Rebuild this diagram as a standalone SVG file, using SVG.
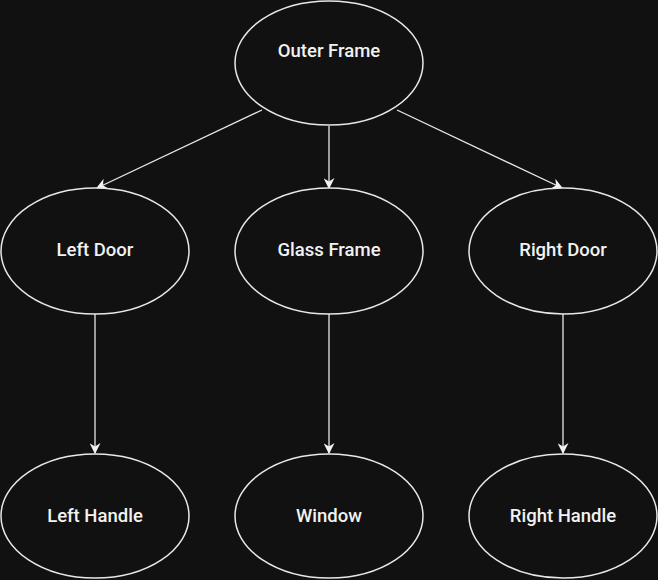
<svg xmlns="http://www.w3.org/2000/svg" width="658" height="580" viewBox="0 0 658 580">
<style>
.n{fill:#111111;stroke:#e8e8e8;stroke-width:1.5}
.t{fill:#f2f2f2;font-family:Roboto,"Liberation Sans",Arial,sans-serif;font-size:18.5px;font-weight:500;text-anchor:middle;dominant-baseline:central}
.e{stroke:#e8e8e8;stroke-width:1.3;fill:none;marker-end:url(#ah)}
</style>
<defs>
<marker id="ah" viewBox="0 0 10 10" refX="9" refY="5" markerWidth="11" markerHeight="11" markerUnits="userSpaceOnUse" orient="auto">
<path d="M0,0 L10,5 L0,10 L3,5 Z" fill="#f2f2f2"/>
</marker>
</defs>
<rect width="658" height="580" fill="#111111"/>
<g id="connectors">
<path class="e" d="M262,110 L97,188"/>
<path class="e" d="M329,126 L329,188"/>
<path class="e" d="M397,110 L562,188"/>
<path class="e" d="M95,314 L95,453"/>
<path class="e" d="M329,314 L329,453"/>
<path class="e" d="M563,314 L563,453"/>
</g>
<g id="outer-frame"><ellipse class="n" cx="329" cy="63" rx="94" ry="62"/><text class="t" x="329" y="51">Outer Frame</text></g>
<g id="left-door"><ellipse class="n" cx="95" cy="251" rx="94" ry="63"/><text class="t" x="95" y="250">Left Door</text></g>
<g id="glass-frame"><ellipse class="n" cx="329" cy="251" rx="94" ry="63"/><text class="t" x="329" y="250">Glass Frame</text></g>
<g id="right-door"><ellipse class="n" cx="563" cy="251" rx="94" ry="63"/><text class="t" x="563" y="250">Right Door</text></g>
<g id="left-handle"><ellipse class="n" cx="95" cy="516" rx="94" ry="62"/><text class="t" x="95" y="516">Left Handle</text></g>
<g id="window"><ellipse class="n" cx="329" cy="516" rx="94" ry="62"/><text class="t" x="329" y="516">Window</text></g>
<g id="right-handle"><ellipse class="n" cx="563" cy="516" rx="94" ry="62"/><text class="t" x="563" y="516">Right Handle</text></g>
</svg>
